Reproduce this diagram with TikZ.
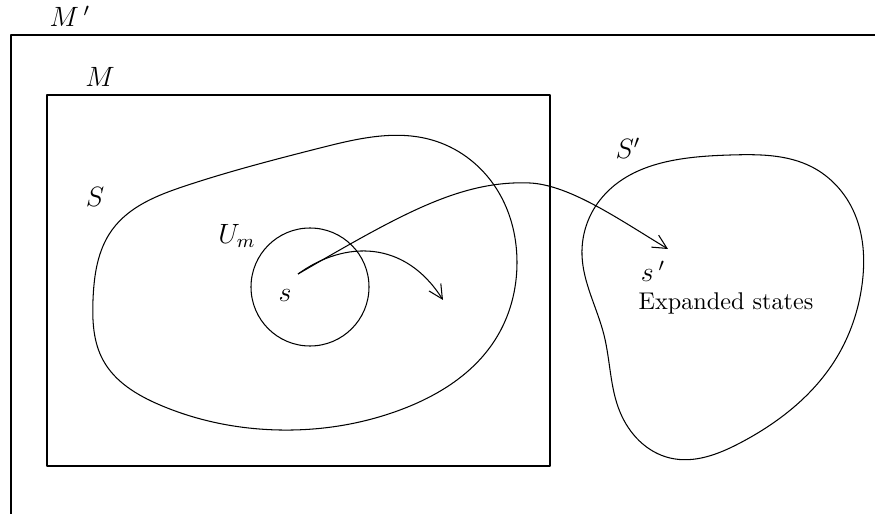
\documentclass[tikz,border=0pt]{standalone}
\usetikzlibrary{arrows.meta,hobby}
\begin{document}
\begin{tikzpicture}[x=0.43pt,y=-0.43pt,
  line/.style={line width=0.45pt,line join=round},
  arr/.style={line,-{Straight Barb[length=6pt,width=6pt,line width=0.45pt]}},
  lbl/.style={inner sep=0pt,font=\fontsize{12}{14}\selectfont},
  txt/.style={inner sep=0pt,font=\fontsize{10.4}{12}\selectfont}]
\useasboundingbox (0,0) rectangle (875,514);
% outer frame M'
\draw[line] (11,514) -- (11,35) -- (875,35);
\node[lbl] (Mp) at (70,16) {$M\,'$};
% frame M
\draw[line] (47,95) rectangle (550,466);
\node[lbl] (M) at (100,77) {$M$};
% blob S
\draw[line,use Hobby shortcut,closed=true]
 (93,300) .. (112,230) .. (185,186) .. (320,148) .. (432,140) .. (494,185)
 .. (517,262) .. (495,340) .. (400,410) .. (280,430) .. (160,405) .. (103,360);
\node[lbl] (S) at (95,197) {$S$};
% circle U_m
\draw[line] (310,287) circle[radius=59];
\node[lbl] (Um) at (237,236) {$U_m$};
% blob S'
\draw[line,use Hobby shortcut,closed=true]
 (730,155) .. (812,167) .. (853,210) .. (862,285) .. (837,357) .. (740,443) .. (670,458)
 .. (620,412) .. (604,335) .. (582,255) .. (600,200);
\node[lbl] (Sp) at (628,148) {$S'$};
% states
\coordinate (s) at (298,274);
\node[lbl] (slbl) at (285,295) {$s$};
\coordinate (e1) at (443,300);
\coordinate (sp) at (668,249);
\node[lbl] (splbl) at (653,271) {$s\,'$};
\node[txt] (exp) at (726,303) {Expanded states};
% arrows
\draw[arr] (s) .. controls (345,240) and (405,240) .. (e1);
\draw[arr] (s) .. controls (400,215) and (460,180) .. (530,183)
  .. controls (570,185) and (620,220) .. (sp);
\end{tikzpicture}
\end{document}
